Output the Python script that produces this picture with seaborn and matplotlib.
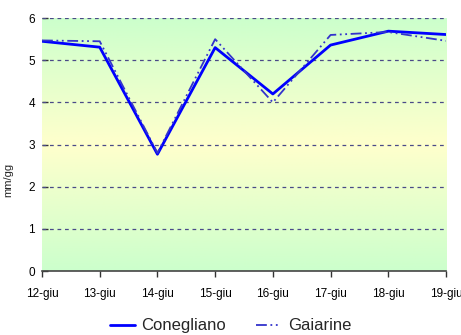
import numpy as np
import pandas as pd
import seaborn as sns
from matplotlib import pyplot as plt
from matplotlib.colors import LinearSegmentedColormap
from matplotlib.lines import Line2D

# data
days = ['12-giu', '13-giu', '14-giu', '15-giu', '16-giu', '17-giu', '18-giu', '19-giu']
conegliano = [5.45, 5.31, 2.77, 5.30, 4.20, 5.36, 5.69, 5.61]
gaiarine = [5.47, 5.45, 2.80, 5.50, 4.00, 5.60, 5.67, 5.46]

df = pd.DataFrame({
    'x': list(range(len(days))) * 2,
    'valore': conegliano + gaiarine,
    'stazione': ['Conegliano'] * len(days) + ['Gaiarine'] * len(days),
})

sns.set_theme(style='white')
plt.rcParams['font.family'] = ['Liberation Sans', 'DejaVu Sans']

fig = plt.figure(figsize=(4.61, 3.35), dpi=100)
ax = fig.add_axes([0.0911, 0.191, 0.8764, 0.755])

# background gradient green -> yellow -> green
cmap = LinearSegmentedColormap.from_list('bg', ['#ccffcc', '#ffffcc', '#ccffcc'])
grad = np.linspace(0, 1, 256).reshape(-1, 1)
ax.imshow(grad, cmap=cmap, aspect='auto', extent=[0, len(days) - 1, 0, 6],
          origin='upper', zorder=0)

for yv in range(1, 7):
    ax.axhline(yv, color='#4a4a88', lw=0.9, ls=(0, (3, 3)), zorder=1)

sns.lineplot(data=df, x='x', y='valore', hue='stazione', style='stazione',
             palette={'Conegliano': '#0000ff', 'Gaiarine': '#3333cc'},
             dashes={'Conegliano': '', 'Gaiarine': (6, 2, 1, 2, 1, 2)},
             ax=ax, legend=False, zorder=3)
for line, lw in zip(ax.lines[-2:], [2.0, 1.3]):
    line.set_linewidth(lw)

ax.set_xlim(0, len(days) - 1)
ax.set_ylim(0, 6)
ax.set_xticks(range(len(days)))
ax.set_xticklabels(days)
ax.set_yticks(range(0, 7))
ax.set_xlabel('')
ax.set_ylabel('mm/gg', fontsize=8)
ax.yaxis.set_label_coords(-0.07, 0.36)
ax.tick_params(axis='both', labelsize=8.5, length=4, width=1, colors='#333333')
ax.tick_params(axis='x', direction='out', pad=8, labelcolor='black')
ax.tick_params(axis='y', direction='in', pad=5, labelcolor='black')
ax.tick_params(bottom=True, left=True)

for s in ['top', 'right', 'left']:
    ax.spines[s].set_visible(False)
ax.spines['bottom'].set_color('#444444')
ax.spines['bottom'].set_linewidth(1.2)

handles = [Line2D([], [], color='#0000ff', lw=2.0),
           Line2D([], [], color='#3333cc', lw=1.3, ls=(0, (6, 2, 1, 2, 1, 2)))]
fig.legend(handles, ['Conegliano', 'Gaiarine'], loc='lower center',
           bbox_to_anchor=(0.5, -0.04), ncol=2, frameon=False, fontsize=12,
           handlelength=1.5, handletextpad=0.4, columnspacing=1.8)

fig.savefig('out.png', dpi=100)
